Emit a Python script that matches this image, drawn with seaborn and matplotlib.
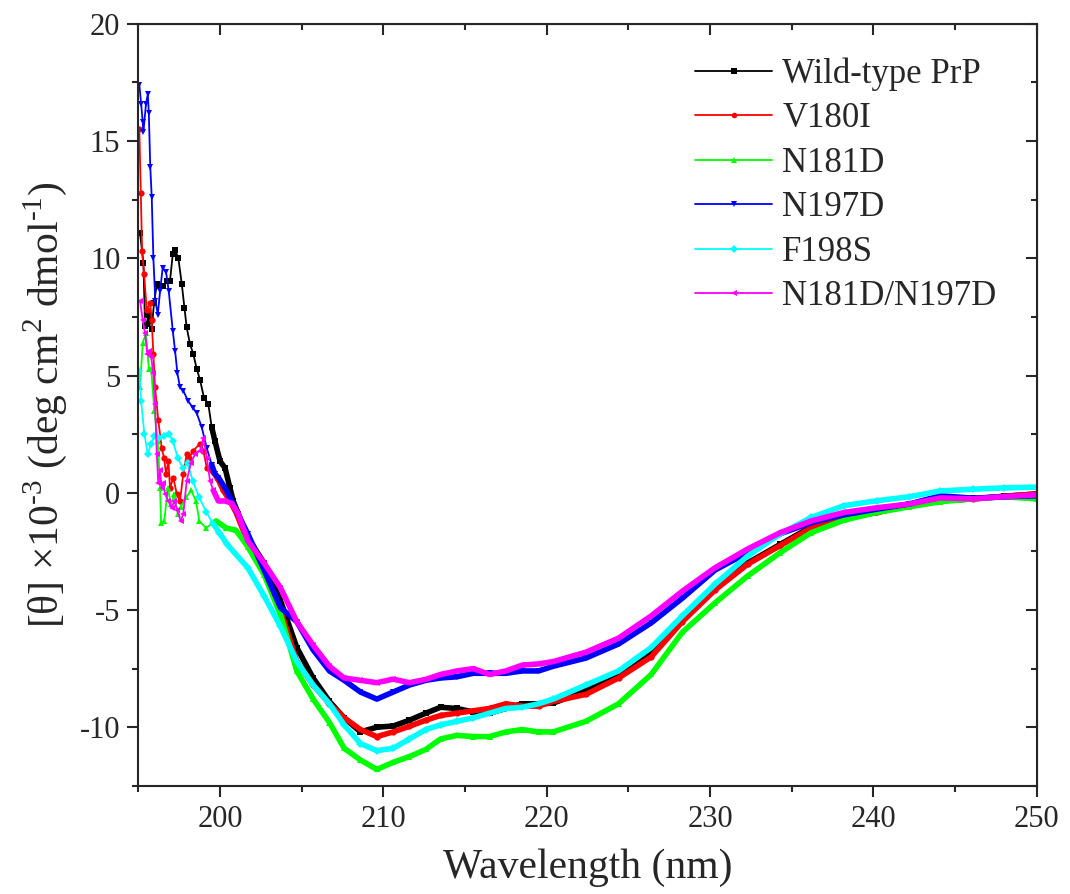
import numpy as np
import pandas as pd
import matplotlib
matplotlib.use("Agg")
import matplotlib.pyplot as plt
from matplotlib.ticker import MultipleLocator
import seaborn as sns

# sample names, colours and markers (Origin default order)
samples = ["Wild-type PrP", "V180I", "N181D", "N197D", "F198S", "N181D/N197D"]
colors = ["#000000", "#ff0000", "#00ff00", "#0000ff", "#00ffff", "#ff00ff"]
markers = ["s", "o", "^", "v", "D", "<"]

# noisy short-wavelength part, read point by point (nm, [theta] x 1e-3)
wl_wt = [195.10, 195.31, 195.41, 195.51, 195.61, 195.76, 195.82, 195.96, 196.13, 196.33, 196.53, 196.74,
         196.94, 197.11, 197.25, 197.45, 197.66, 197.82, 197.96, 198.16, 198.37, 198.57, 198.78, 199.02,
         199.28, 199.49, 199.69, 200.00, 200.31, 200.61, 200.81, 201.12]
cd_wt = [11.1, 9.8, 7.1, 7.2, 7.6, 7.35, 7.0, 8.1, 8.9, 8.8, 8.8, 9.05,
         9.05, 10.2, 10.35, 10.0, 8.9, 7.9, 7.05, 6.35, 5.9, 5.3, 4.8, 4.05,
         3.8, 2.8, 2.2, 1.35, 1.05, 0.2, -0.35, -0.9]

wl_v180i = [195.06, 195.15, 195.23, 195.35, 195.51, 195.72, 195.82, 195.92, 196.02, 196.22, 196.43, 196.57,
            196.70, 196.84, 196.94, 197.14, 197.35, 197.55, 197.75, 197.96, 198.12, 198.37, 198.78, 198.98,
            199.19, 199.49, 199.83, 200.20, 200.61, 201.02]
cd_v180i = [15.5, 12.8, 10.3, 9.35, 7.8, 8.1, 7.35, 5.9, 4.5, 3.1, 1.9, 1.5,
            0.8, 1.35, 0.2, 0.65, -0.05, -0.35, 0.8, 1.65, 1.5, 1.8, 2.1, 1.8,
            1.05, 0.95, 0.65, 0.1, -0.35, -0.9]

wl_n181d = [195.10, 195.27, 195.47, 195.64, 195.78, 195.98, 196.19, 196.33, 196.39, 196.59, 196.80, 197.00,
            197.20, 197.41, 197.61, 197.92, 198.23, 198.53, 198.73, 199.14, 199.76, 200.37, 200.98]
cd_n181d = [4.5, 6.4, 6.8, 5.3, 5.3, 3.5, 2.2, 0.2, -1.3, -1.2, 0.2, -0.5,
            -0.05, -0.9, -0.6, -0.2, 0.1, -0.35, -1.2, -1.5, -1.2, -1.5, -1.6]

wl_n197d = [195.06, 195.17, 195.27, 195.31, 195.47, 195.58, 195.64, 195.73, 195.82, 195.92, 196.04, 196.19,
            196.33, 196.49, 196.70, 196.86, 197.11, 197.25, 197.39, 197.55, 197.75, 198.06, 198.37, 198.57,
            198.88, 199.19, 199.49, 199.69, 199.90, 200.31, 200.61, 201.02]
cd_n197d = [17.4, 16.6, 15.8, 15.4, 16.6, 17.0, 16.2, 13.9, 12.6, 10.0, 8.2, 7.6,
            8.6, 9.6, 9.4, 8.6, 6.9, 6.05, 5.1, 4.5, 4.35, 3.9, 3.6, 3.4,
            2.8, 1.9, 1.2, 0.8, 0.65, 0.2, -0.2, -0.8]

wl_f198s = [195.06, 195.17, 195.37, 195.58, 195.78, 195.98, 196.29, 196.59, 196.90, 197.11, 197.41, 197.72,
            198.02, 198.33, 198.73, 199.14, 199.55, 199.96, 200.43]
cd_f198s = [5.2, 3.9, 2.5, 1.65, 2.1, 2.4, 2.35, 2.4, 2.5, 2.2, 1.5, 1.05,
            1.25, 0.5, -0.2, -0.8, -1.3, -1.7, -2.2]

wl_double = [195.10, 195.27, 195.41, 195.55, 195.65, 195.78, 195.92, 196.02, 196.13, 196.22, 196.33, 196.43,
             196.53, 196.63, 196.84, 197.04, 197.20, 197.39, 197.59, 197.75, 197.96, 198.21, 198.47, 198.78,
             198.98, 199.19, 199.39, 199.59, 199.90, 200.31, 200.72, 201.12]
cd_double = [8.2, 7.35, 6.8, 5.9, 6.05, 5.8, 5.1, 3.8, 1.65, 0.4, 0.95, 0.2,
             0.4, -0.05, -0.35, -0.65, -0.35, -0.75, -1.2, -0.9, 0.5, 1.25, 1.65, 1.8,
             2.35, 1.5, 0.5, 0.1, -0.35, -0.35, -0.45, -0.9]

# smooth far-UV part, shared wavelength grid
wl_tail = [201.7, 202.7, 203.7, 204.7, 205.7, 206.7, 207.6, 208.6, 209.6, 210.6, 211.6, 212.6,
           213.5, 214.5, 215.5, 216.5, 217.5, 218.5, 219.5, 220.4, 222.4, 224.4, 226.4, 228.3,
           230.3, 232.3, 234.3, 236.2, 238.2, 240.2, 242.2, 244.1, 246.1, 248.0, 250.0]
tail_wt = [-1.9, -3.0, -4.6, -6.6, -7.9, -8.9, -9.6, -10.2, -10.0, -9.95, -9.7, -9.4,
           -9.15, -9.2, -9.35, -9.4, -9.2, -9.0, -9.0, -8.97, -8.45, -7.8, -6.75, -5.4,
           -4.1, -3.0, -2.2, -1.45, -1.1, -0.84, -0.55, -0.34, -0.26, -0.15, -0.05]
tail_v180i = [-2.1, -3.4, -5.0, -7.2, -8.2, -9.0, -9.6, -10.1, -10.4, -10.2, -9.96, -9.7,
              -9.5, -9.4, -9.3, -9.2, -9.0, -9.1, -9.1, -8.9, -8.6, -7.9, -7.0, -5.5,
              -4.15, -3.05, -2.25, -1.5, -1.1, -0.84, -0.55, -0.34, -0.26, -0.15, -0.05]
tail_n181d = [-2.3, -3.5, -5.2, -7.6, -8.8, -9.8, -10.9, -11.4, -11.8, -11.5, -11.25, -10.95,
              -10.5, -10.35, -10.4, -10.4, -10.2, -10.1, -10.2, -10.2, -9.75, -9.0, -7.75, -5.95,
              -4.7, -3.55, -2.55, -1.7, -1.17, -0.84, -0.6, -0.38, -0.26, -0.17, -0.26]
tail_n197d = [-1.75, -3.3, -4.9, -5.5, -6.7, -7.6, -8.0, -8.5, -8.8, -8.5, -8.2, -8.0,
              -7.9, -7.85, -7.7, -7.7, -7.7, -7.6, -7.6, -7.4, -7.05, -6.45, -5.55, -4.5,
              -3.3, -2.55, -1.75, -1.27, -0.94, -0.7, -0.48, -0.13, -0.23, -0.17, -0.13]
tail_f198s = [-3.2, -4.4, -5.7, -7.2, -8.2, -9.0, -9.9, -10.7, -11.0, -10.9, -10.5, -10.1,
              -9.9, -9.75, -9.6, -9.4, -9.2, -9.15, -9.0, -8.8, -8.2, -7.6, -6.6, -5.25,
              -3.9, -2.7, -1.75, -1.05, -0.55, -0.34, -0.17, 0.08, 0.15, 0.21, 0.24]
tail_double = [-2.05, -3.0, -4.05, -5.5, -6.5, -7.4, -7.9, -8.0, -8.1, -7.95, -8.1, -7.96,
               -7.75, -7.6, -7.5, -7.75, -7.6, -7.35, -7.3, -7.2, -6.8, -6.2, -5.25, -4.2,
               -3.2, -2.4, -1.7, -1.2, -0.84, -0.64, -0.48, -0.22, -0.26, -0.17, -0.09]

head = {
    "Wild-type PrP": (wl_wt, cd_wt, tail_wt),
    "V180I": (wl_v180i, cd_v180i, tail_v180i),
    "N181D": (wl_n181d, cd_n181d, tail_n181d),
    "N197D": (wl_n197d, cd_n197d, tail_n197d),
    "F198S": (wl_f198s, cd_f198s, tail_f198s),
    "N181D/N197D": (wl_double, cd_double, tail_double),
}

frames = []
for name in samples:
    wl, cd, tail = head[name]
    frames.append(pd.DataFrame({"wl": list(wl) + wl_tail, "cd": list(cd) + tail, "sample": name}))
df = pd.concat(frames, ignore_index=True)

sns.set_style("ticks")
plt.rcParams["font.family"] = ["Liberation Serif", "DejaVu Serif"]
plt.rcParams["mathtext.fontset"] = "custom"
plt.rcParams["mathtext.rm"] = "Liberation Serif"
plt.rcParams["axes.unicode_minus"] = False

fig = plt.figure(figsize=(10.7, 8.94), dpi=100)
ax = fig.add_axes([0.1293, 0.1210, 0.8396, 0.8523])

pal = dict(zip(samples, colors))

# thin line + markers everywhere
sns.lineplot(data=df, x="wl", y="cd", hue="sample", style="sample",
             hue_order=samples, style_order=samples, palette=pal,
             markers=dict(zip(samples, markers)), dashes=False,
             estimator=None, sort=False, lw=1.3, ms=4.5, mew=0, ax=ax)
# dense part of the scan looks like a heavy line
sns.lineplot(data=df[df["wl"] >= 199.4], x="wl", y="cd", hue="sample",
             hue_order=samples, palette=pal, estimator=None, sort=False,
             lw=4.0, legend=False, ax=ax)

ax.set_xlim(195, 250)
ax.set_ylim(-12.5, 20)
ax.xaxis.set_major_locator(MultipleLocator(10))
ax.xaxis.set_minor_locator(MultipleLocator(5))
ax.yaxis.set_major_locator(MultipleLocator(5))
ax.yaxis.set_minor_locator(MultipleLocator(2.5))
ax.tick_params(which="both", direction="out", width=1.5, labelsize=22, top=False, right=False)
ax.tick_params(axis="x", pad=6)
ax.tick_params(axis="y", pad=5)
ax.tick_params(which="major", length=8)
ax.tick_params(which="minor", length=4.5)
for sp in ax.spines.values():
    sp.set_linewidth(1.5)

# inward ticks on top and right, no labels
secx = ax.secondary_xaxis("top")
secx.xaxis.set_major_locator(MultipleLocator(10))
secx.xaxis.set_minor_locator(MultipleLocator(5))
secx.tick_params(which="both", direction="in", width=1.5, labeltop=False)
secx.tick_params(which="major", length=8)
secx.tick_params(which="minor", length=4.5)
secy = ax.secondary_yaxis("right")
secy.yaxis.set_major_locator(MultipleLocator(5))
secy.yaxis.set_minor_locator(MultipleLocator(2.5))
secy.tick_params(which="both", direction="in", width=1.5, labelright=False)
secy.tick_params(which="major", length=8)
secy.tick_params(which="minor", length=4.5)

ax.set_xlabel("Wavelength (nm)", fontsize=30, labelpad=10)
ax.set_ylabel("[θ] ×10$^{‐3}$ (deg cm$^{2}$ dmol$^{‐1}$)", fontsize=30, labelpad=8)

handles, labels = ax.get_legend_handles_labels()
for h in handles:
    h.set_linewidth(1.3)
    h.set_markersize(4)
ax.legend(handles, labels, loc="upper left", bbox_to_anchor=(0.62, 0.956),
          frameon=False, fontsize=25, handlelength=2.2, handletextpad=0.3,
          labelspacing=0.33, borderaxespad=0, borderpad=0)

fig.savefig("out.png", dpi=100)
